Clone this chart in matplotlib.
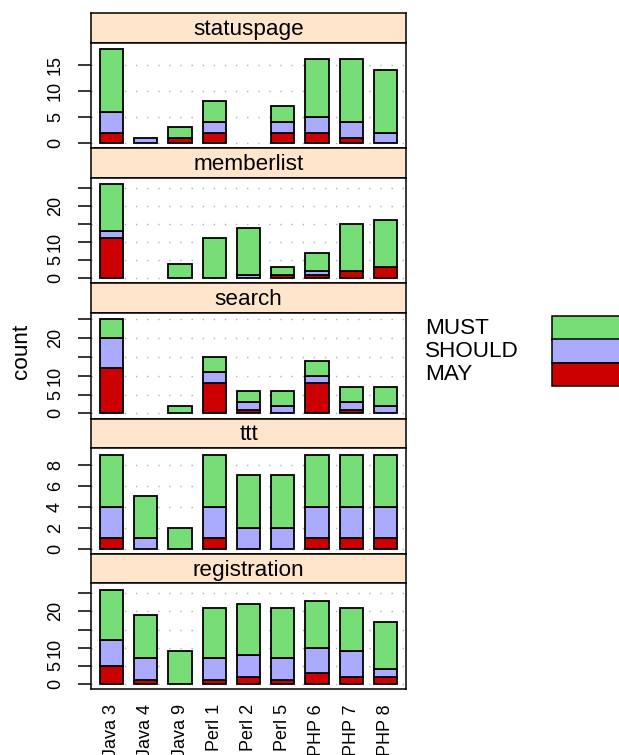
import numpy as np
import matplotlib
matplotlib.use("Agg")
import matplotlib.pyplot as plt
from matplotlib.patches import Rectangle

plt.rcParams['font.family'] = ['Liberation Sans', 'DejaVu Sans']

programs = ["Java 3", "Java 4", "Java 9", "Perl 1", "Perl 2", "Perl 5", "PHP 6", "PHP 7", "PHP 8"]
tasks = ["statuspage", "memberlist", "search", "ttt", "registration"]
levels = ["MUST", "SHOULD", "MAY"]

# counts per task, one value per program
may = {
    "statuspage":   [2, 0, 1, 2, 0, 2, 2, 1, 0],
    "memberlist":   [11, 0, 0, 0, 0, 1, 1, 2, 3],
    "search":       [12, 0, 0, 8, 1, 0, 8, 1, 0],
    "ttt":          [1, 0, 0, 1, 0, 0, 1, 1, 1],
    "registration": [5, 1, 0, 1, 2, 1, 3, 2, 2],
}
should = {
    "statuspage":   [4, 1, 0, 2, 0, 2, 3, 3, 2],
    "memberlist":   [2, 0, 0, 0, 1, 0, 1, 0, 0],
    "search":       [8, 0, 0, 3, 2, 2, 2, 2, 2],
    "ttt":          [3, 1, 0, 3, 2, 2, 3, 3, 3],
    "registration": [7, 6, 0, 6, 6, 6, 7, 7, 2],
}
must = {
    "statuspage":   [12, 0, 2, 4, 0, 3, 11, 12, 12],
    "memberlist":   [13, 0, 4, 11, 13, 2, 5, 13, 13],
    "search":       [5, 0, 2, 4, 3, 4, 4, 4, 5],
    "ttt":          [5, 4, 2, 5, 5, 5, 5, 5, 5],
    "registration": [14, 12, 9, 14, 14, 14, 13, 12, 13],
}
# tick positions and the labels that get printed
yticks = {
    "statuspage":   [0, 5, 10, 15],
    "memberlist":   [0, 5, 10, 15, 20, 25],
    "search":       [0, 5, 10, 15, 20, 25],
    "ttt":          [0, 2, 4, 6, 8],
    "registration": [0, 5, 10, 15, 20, 25],
}
ylabels = {
    "statuspage":   ["0", "5", "10", "15"],
    "memberlist":   ["0", "5", "10", "", "20", ""],
    "search":       ["0", "5", "10", "", "20", ""],
    "ttt":          ["0", "2", "4", "6", "8"],
    "registration": ["0", "5", "10", "", "20", ""],
}

col_must = "#77DD77"
col_should = "#AAAAFF"
col_may = "#CC0000"
strip_col = "#FFE5CC"

W, H = 619, 755
fig = plt.figure(figsize=(W / 100, H / 100), dpi=100)

def box(x0, y0, w, h):
    # pixel box measured from top-left -> figure fraction
    return [x0 / W, 1 - (y0 + h) / H, w / W, h / H]

left, right = 91, 406
top0, block, strip_h = 13, 135.2, 29.5
x = np.arange(1, len(programs) + 1)

def stack(ax, vals, bottom, color):
    # empty segments get no outline
    vals = np.asarray(vals)
    lw = np.where(vals > 0, 1.3, 0.0)
    ax.bar(x, vals, bottom=bottom, color=color, width=0.68,
           edgecolor="black", linewidth=lw, zorder=2)

for i, task in enumerate(tasks):
    t = top0 + i * block
    sax = fig.add_axes(box(left, t, right - left, strip_h))
    sax.set_facecolor(strip_col)
    sax.set_xticks([]); sax.set_yticks([])
    sax.text(0.5, 0.45, task, ha="center", va="center", fontsize=16.2, transform=sax.transAxes)
    for s in sax.spines.values():
        s.set_linewidth(1.1)

    ax = fig.add_axes(box(left, t + strip_h, right - left, block - strip_h))
    m1 = np.array(may[task]); m2 = np.array(should[task]); m3 = np.array(must[task])
    ymax = (m1 + m2 + m3).max()
    for v in yticks[task]:
        ax.axhline(v, color="#b0b0b0", lw=1, ls=(0, (1, 7)), zorder=0)
    stack(ax, m1, 0, col_may)
    stack(ax, m2, m1, col_should)
    stack(ax, m3, m1 + m2, col_must)
    ax.set_xlim(0.4, 9.6)
    ax.set_ylim(-0.055 * ymax, 1.068 * ymax)
    ax.set_yticks(yticks[task])
    ax.set_yticklabels(ylabels[task], rotation=90, va="center", fontsize=13)
    ax.tick_params(axis="y", length=9.5, width=1.1, pad=10)
    ax.tick_params(axis="x", length=0)
    if i == len(tasks) - 1:
        ax.set_xticks(x)
        ax.set_xticklabels(programs, rotation=90, fontsize=13, va="top")
        ax.tick_params(axis="x", pad=11)
    else:
        ax.set_xticks([])
    for s in ax.spines.values():
        s.set_linewidth(1.1)

fig.text(22 / W, 1 - 351 / H, "count", rotation=90, ha="center", va="center", fontsize=16.2)

# key on the right
key_cols = [col_must, col_should, col_may]
key_y = [316, 339.5, 362.5]
for lab, c, yk in zip(levels, key_cols, key_y):
    fig.text(425 / W, 1 - (yk + 12) / H, lab, ha="left", va="center", fontsize=16.2)
    fig.patches.append(Rectangle((552 / W, 1 - (yk + 23.5) / H), 70 / W, 23.5 / H,
                                 transform=fig.transFigure, facecolor=c, edgecolor="black",
                                 linewidth=1.1, figure=fig))

fig.savefig("out.png", dpi=100)
